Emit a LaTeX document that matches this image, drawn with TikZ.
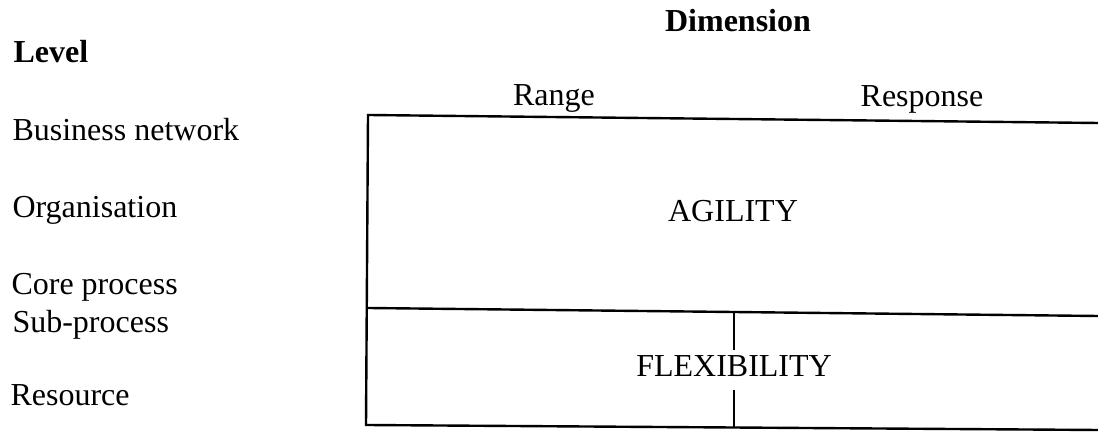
\documentclass[tikz,border=0pt]{standalone}
\usepackage{fontspec}
\setmainfont{Liberation Serif}
\begin{document}
\begin{tikzpicture}[x=0.375pt,y=-0.375pt,
  lvl/.style={anchor=base west,inner sep=0pt,font=\fontsize{12pt}{14pt}\selectfont},
  head/.style={inner sep=0pt,font=\fontsize{12pt}{14pt}\selectfont\bfseries},
  dim/.style={anchor=base,inner sep=0pt,font=\fontsize{12pt}{14pt}\selectfont},
  rule/.style={line width=0.9pt}]
\useasboundingbox (0,0) rectangle (1098,432);

% headings
\node[head,anchor=base west] (level) at (13,63) {Level};
\node[head,anchor=base] (dimension) at (738,32) {Dimension};

% levels
\node[lvl] (business) at (12,141) {Business network};
\node[lvl] (organisation) at (12,218) {Organisation};
\node[lvl] (core) at (11,295) {Core process};
\node[lvl] (sub) at (12,333) {Sub-process};
\node[lvl] (resource) at (10,406) {Resource};

% dimensions
\node[dim] (range) at (554,106) {Range};
\node[dim] (response) at (922,107) {Response};

% frame corners
\coordinate (tl) at (368,115);
\coordinate (tr) at (1098,123);
\coordinate (ml) at (368,308);
\coordinate (mr) at (1098,316);
\coordinate (bl) at (366,425);
\coordinate (br) at (1098,430);
\coordinate (vt) at (734,312);
\coordinate (vb) at (734,427);

\draw[rule] (tr) -- (tl) -- (bl) -- (br);
\draw[rule] (ml) -- (mr);

% regions
\node[dim] (agility) at (733,222) {AGILITY};
\node[dim,text height=10.1pt,text depth=4.5pt] (flex) at (734,377) {FLEXIBILITY};
\draw[rule] (vt) -- (flex.north);
\draw[rule] (flex.south) -- (vb);
\end{tikzpicture}
\end{document}
